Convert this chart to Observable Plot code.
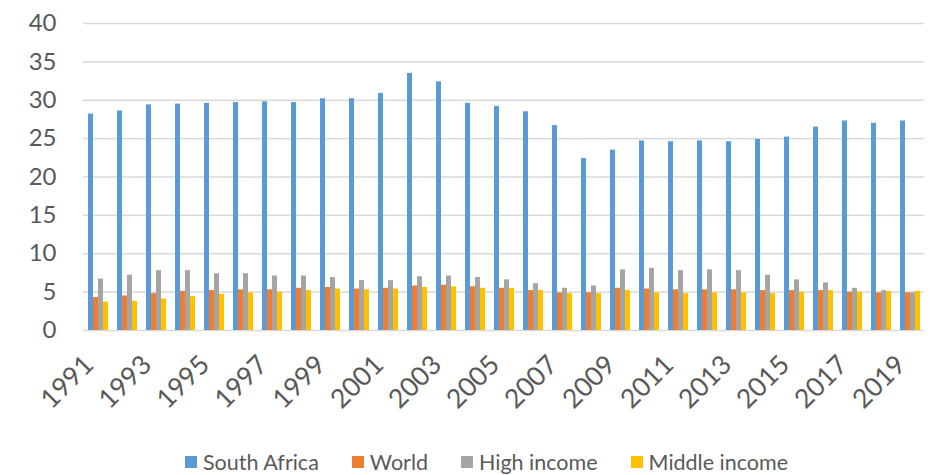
<!DOCTYPE html>
<html>
<head>
<meta charset="utf-8">
<script src="https://cdn.jsdelivr.net/npm/d3@7"></script>
<script src="https://cdn.jsdelivr.net/npm/@observablehq/plot@0.6"></script>
<style>
  body { margin: 0; background: #fff; font-family: Lato, "Open Sans", sans-serif; }
  #legend {
    display: flex; align-items: center; gap: 33px;
    margin-left: 185px; height: 26px; line-height: 30px;
    font-size: 21.5px; color: #595959; white-space: nowrap;
  }
  #legend .item { display: flex; align-items: center; gap: 6px; }
  #legend .sw { width: 12px; height: 12px; display: inline-block; }
</style>
</head>
<body>
<div id="chart"></div>
<div id="legend"></div>
<script>
// Years on the category axis
const years = [1991, 1992, 1993, 1994, 1995, 1996, 1997, 1998, 1999, 2000,
               2001, 2002, 2003, 2004, 2005, 2006, 2007, 2008, 2009, 2010,
               2011, 2012, 2013, 2014, 2015, 2016, 2017, 2018, 2019];
// Only every other year gets a label
const labelYears = [1991, 1993, 1995, 1997, 1999, 2001, 2003, 2005, 2007, 2009,
                    2011, 2013, 2015, 2017, 2019];
const yTicks = [0, 5, 10, 15, 20, 25, 30, 35, 40];

const seriesNames = ["South Africa", "World", "High income", "Middle income"];
const seriesColors = ["#5B9BD5", "#ED7D31", "#A5A5A5", "#FFC000"];

const southAfrica = [28.2, 28.6, 29.4, 29.5, 29.6, 29.7, 29.8, 29.7, 30.2, 30.2,
                     30.9, 33.5, 32.4, 29.6, 29.2, 28.5, 26.7, 22.4, 23.5, 24.7,
                     24.6, 24.7, 24.6, 24.9, 25.2, 26.5, 27.3, 27.0, 27.3];
const world       = [4.3, 4.5, 4.8, 5.1, 5.2, 5.3, 5.3, 5.5, 5.6, 5.4,
                     5.5, 5.8, 5.9, 5.7, 5.5, 5.2, 4.9, 4.9, 5.5, 5.4,
                     5.3, 5.3, 5.3, 5.2, 5.2, 5.2, 5.0, 4.9, 4.9];
const highIncome  = [6.7, 7.2, 7.8, 7.8, 7.4, 7.4, 7.1, 7.1, 6.9, 6.5,
                     6.5, 7.0, 7.1, 6.9, 6.6, 6.1, 5.5, 5.8, 7.9, 8.1,
                     7.8, 7.9, 7.8, 7.2, 6.6, 6.2, 5.5, 5.2, 4.9];
const middleIncome = [3.7, 3.8, 4.1, 4.4, 4.7, 4.9, 5.0, 5.2, 5.4, 5.3,
                      5.4, 5.6, 5.7, 5.5, 5.5, 5.2, 4.8, 4.8, 5.2, 4.9,
                      4.8, 4.9, 4.9, 4.8, 5.0, 5.2, 5.0, 5.1, 5.1];

const seriesValues = [southAfrica, world, highIncome, middleIncome];

// Long-form table: one row per (year, series)
const rows = [];
years.forEach((year, i) => {
  seriesNames.forEach((name, s) => {
    rows.push({year, series: name, value: seriesValues[s][i]});
  });
});

const chart = Plot.plot({
  width: 934,
  height: 449,
  marginLeft: 73,
  marginRight: 0,
  marginTop: 23,
  marginBottom: 119,
  style: {fontFamily: "Lato, 'Open Sans', sans-serif", color: "#595959", background: "#fff"},
  fx: {domain: years, paddingInner: 0.27, paddingOuter: 0.135, label: null},
  x: {domain: seriesNames, padding: 0, axis: null},
  y: {domain: [0, 40], label: null},
  color: {domain: seriesNames, range: seriesColors},
  marks: [
    // horizontal gridlines bridging the gaps between year groups
    Plot.ruleY(yTicks, {stroke: "#D9D9D9", strokeWidth: 1.5, insetLeft: -4.1, insetRight: -4.1}),
    Plot.barY(rows, {fx: "year", x: "series", y: "value", fill: "series"}),
    Plot.axisY({ticks: yTicks, tickSize: 0, tickPadding: 31, fontSize: 24, label: null}),
    Plot.axisFx({anchor: "bottom", ticks: labelYears, tickFormat: d => String(d),
                 tickRotate: -45, tickSize: 0, tickPadding: 30, dx: -9, fontSize: 26.5, label: null})
  ]
});
document.getElementById("chart").appendChild(chart);

// Legend below the chart
const legend = document.getElementById("legend");
seriesNames.forEach((name, i) => {
  const item = document.createElement("span");
  item.className = "item";
  const sw = document.createElement("span");
  sw.className = "sw";
  sw.style.background = seriesColors[i];
  const label = document.createElement("span");
  label.textContent = name;
  item.appendChild(sw);
  item.appendChild(label);
  legend.appendChild(item);
});
</script>
</body>
</html>
